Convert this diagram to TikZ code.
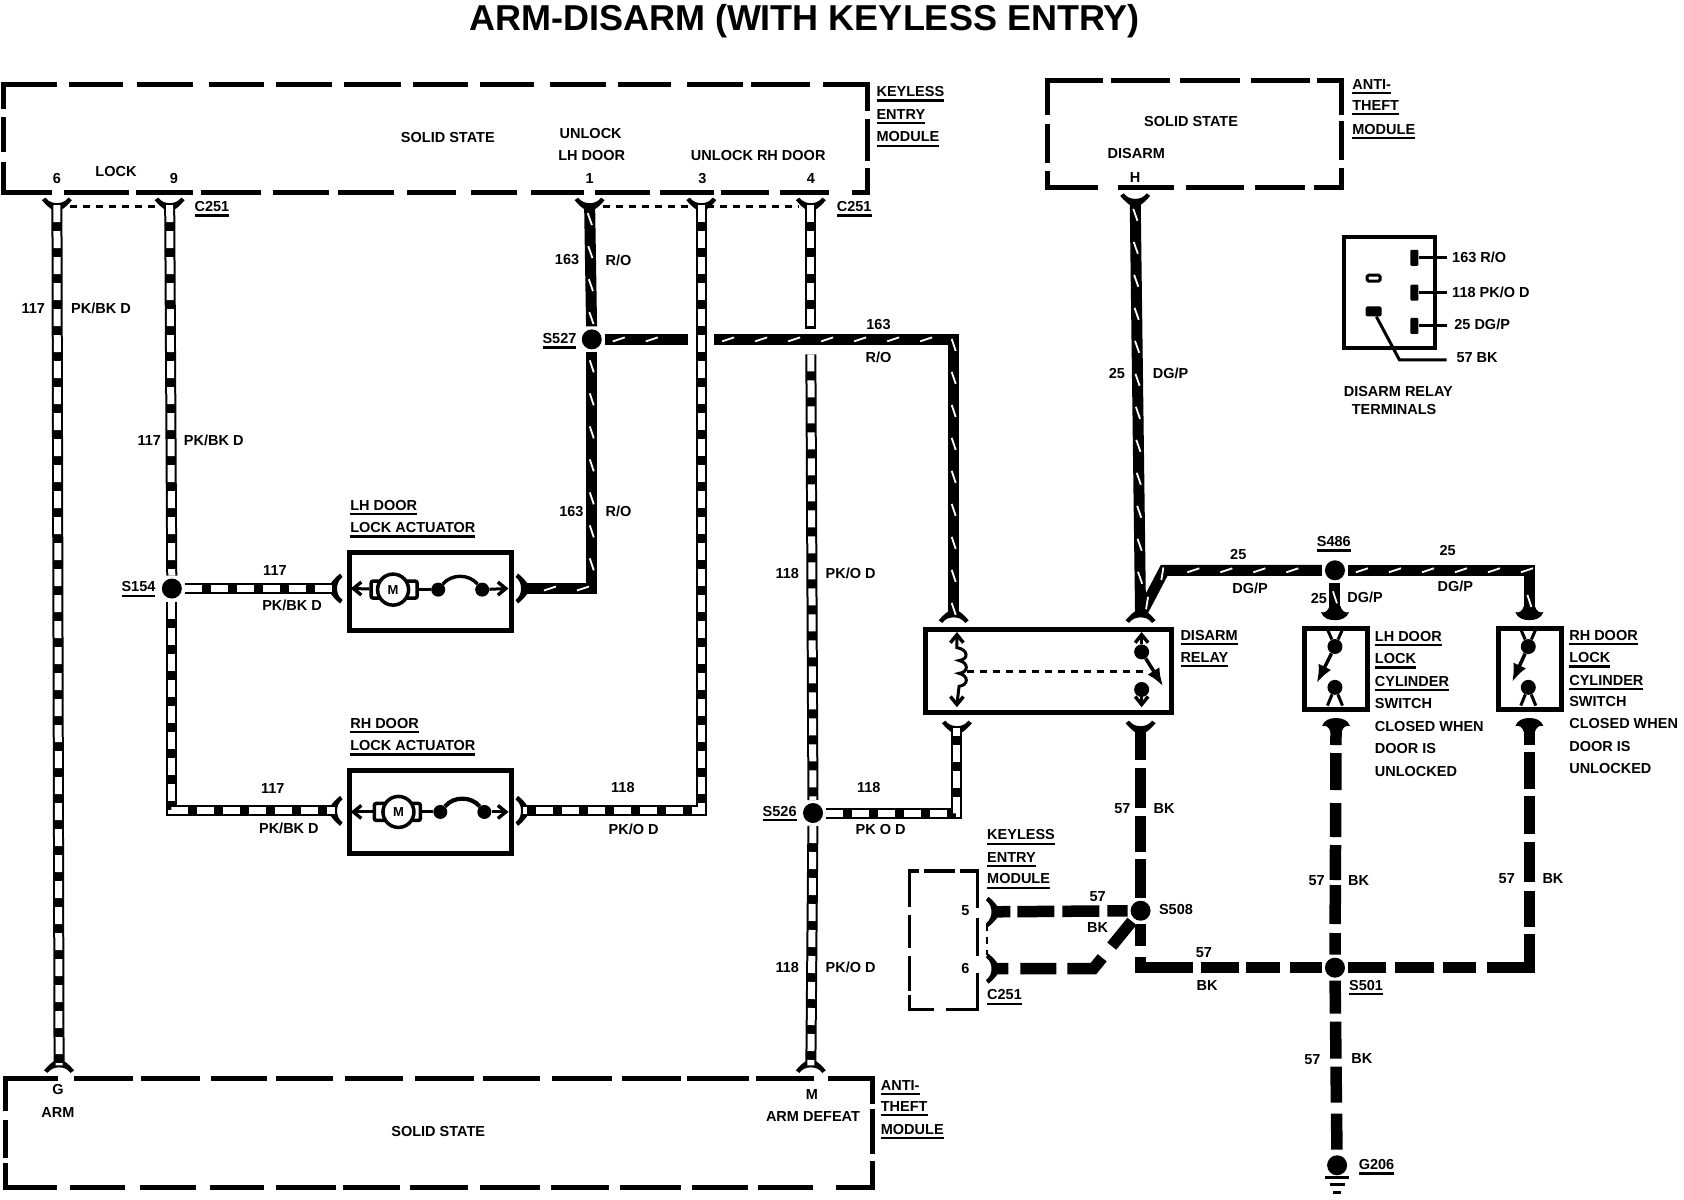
\documentclass[tikz,border=0pt]{standalone}
\usepackage{fontspec}
\setmainfont{Liberation Sans}
\usetikzlibrary{fit,calc,arrows.meta,decorations.markings}
\newcount\lblc
\newcommand\ulab[1]{\vtop{\hbox{#1}\kern2.6pt\hrule height 2.2pt}}
\newcommand\tc[3]{\global\advance\lblc by 1\node[lbl,name=t\the\lblc] at (#1,#2) {#3};}
\newcommand\tw[3]{\global\advance\lblc by 1\node[lbl,anchor=west,name=t\the\lblc] at (#1,#2) {#3};}
\newcommand\tu[3]{\global\advance\lblc by 1\node[lbl,anchor=base west,name=t\the\lblc] at (#1,{#2+5}) {\ulab{#3}};}
\newcommand\forkat[2]{\pic[rotate=#2] at (#1) {cupfork};}
\newcommand\headat[2]{\pic[rotate=#2] at (#1) {cuphead};}
\newcommand\chevat[2]{\pic[rotate=#2] at (#1) {chevron};}
\tikzset{
  lbl/.style={inner sep=0pt,font=\fontsize{14.5}{15}\selectfont\bfseries},
  stripe/.style={line width=11pt,postaction={draw=white,line width=7pt,dash pattern=on 17pt off 9pt}},
  hatch/.style={line width=11pt,postaction={decorate,decoration={markings,
      mark=between positions 14pt and -6pt step 33pt with {\draw[white,line width=1.8pt] (-6pt,-2pt)--(6pt,2pt);}}}},
  bkw/.style={line width=11.5pt},
  splice/.style={circle,fill=black,minimum size=20pt,inner sep=0pt,outer sep=3pt},
  dotn/.style={circle,fill=black,minimum size=14pt,inner sep=0pt},
  modbox/.style={inner sep=0pt,outer sep=0pt},
  modln/.style={line width=5pt,shorten <=-2.5pt},
  smln/.style={line width=3.6pt,shorten <=-1.8pt},
  devbox/.style={draw,line width=5pt,inner sep=0pt},
  thin dash/.style={line width=2.6pt,dash pattern=on 7pt off 6pt},
  inner/.style={line width=3pt},
  swarrow/.style={line width=3.5pt,-{Latex[length=18pt,width=14pt]}},
  cupfork/.pic={\fill (-15pt,5pt) .. controls (-11pt,0pt) and (-7pt,-3pt) .. (-5.5pt,-4pt) -- (5.5pt,-4pt)
     .. controls (7pt,-3pt) and (11pt,0pt) .. (15pt,5pt) -- (11.5pt,7.5pt) .. controls (8pt,3pt) and (4pt,2pt) .. (0pt,2pt)
     .. controls (-4pt,2pt) and (-8pt,3pt) .. (-11.5pt,7.5pt) -- cycle;},
  cuphead/.pic={\fill (-14pt,0pt) .. controls (-12pt,6pt) and (-6pt,8pt) .. (0pt,8pt) .. controls (6pt,8pt) and (12pt,6pt) .. (14pt,0pt)
     .. controls (10pt,1pt) and (7pt,-1pt) .. (5.5pt,-6pt) -- (-5.5pt,-6pt) .. controls (-7pt,-1pt) and (-10pt,1pt) .. cycle;},
  chevron/.pic={\draw[line width=3.4pt] (-6.5pt,-8pt) -- (0pt,0pt) -- (6.5pt,-8pt);},
}
\begin{document}
\begin{tikzpicture}[x=1.074pt,y=-1.074pt]
\useasboundingbox (0,0) rectangle (1568,1117.3);
% title
\node[inner sep=0pt,font=\fontsize{36}{37}\selectfont\bfseries] (title) at (749,20) {ARM-DISARM (WITH KEYLESS ENTRY)};
% modules
\coordinate (ka) at (3,79); \coordinate (kb) at (808,179);
\node[modbox,fit=(ka)(kb)] (keyless) {};
\draw[modln,dash pattern=on 56pt off 12pt on 54pt off 14pt on 56pt off 16pt on 55pt off 12pt on 56pt off 12pt on 57pt off 12pt on 55pt off 12pt on 54pt off 16pt on 56pt off 12pt on 53pt off 16pt on 56pt off 8pt on 59pt off 13pt on 71pt off 8pt on 42pt off 7pt on 40pt off 2000pt]
  (keyless.north west) -- (keyless.north east) -- (keyless.south east) -- (keyless.south west);
\draw[modln,dash pattern=on 27pt off 8pt on 35pt off 10pt on 79pt off 12pt on 65pt off 7pt on 57pt off 8pt on 60pt off 12pt on 56pt off 9pt on 56pt off 13pt on 49pt off 15pt on 46pt off 14pt on 53pt off 11pt on 55pt off 10pt on 54pt off 7pt on 48pt off 11pt on 49pt off 2000pt]
  (keyless.north west) -- (keyless.south west) -- (keyless.south east);
\coordinate (aa) at (975,74.5); \coordinate (ab) at (1249.5,175);
\node[modbox,fit=(aa)(ab)] (antitop) {};
\draw[modln,dash pattern=on 58pt off 8pt on 59pt off 10pt on 60pt off 11pt on 59pt off 7pt on 60pt off 6pt on 39pt off 8pt on 48pt off 9pt on 50pt off 11pt on 58pt off 12pt on 56pt off 2000pt]
  (antitop.north west) -- (antitop.north east) -- (antitop.south east) -- (antitop.south west);
\draw[modln,dash pattern=on 37pt off 9pt on 39pt off 8pt on 68pt off 2000pt]
  (antitop.north west) -- (antitop.south west) -- (antitop.south east);
\coordinate (ba) at (4.7,1004); \coordinate (bb) at (812,1106);
\node[modbox,fit=(ba)(bb)] (antibot) {};
\draw[modln,dash pattern=on 55pt off 16pt on 59pt off 8pt on 59pt off 11pt on 56pt off 9pt on 57pt off 12pt on 58pt off 12pt on 59pt off 9pt on 57pt off 12pt on 60pt off 10pt on 59pt off 6pt on 62pt off 7pt on 58pt off 14pt on 70pt off 5pt on 45pt off 7pt on 63pt off 2000pt]
  (antibot.north west) -- (antibot.north east) -- (antibot.south east) -- (antibot.south west);
\draw[modln,dash pattern=on 35pt off 9pt on 38pt off 5pt on 77pt off 13pt on 55pt off 15pt on 56pt off 14pt on 54pt off 12pt on 60pt off 7pt on 57pt off 10pt on 58pt off 12pt on 60pt off 11pt on 58pt off 11pt on 61pt off 11pt on 56pt off 10pt on 55pt off 2000pt]
  (antibot.north west) -- (antibot.south west) -- (antibot.south east);
\coordinate (sa) at (847,811); \coordinate (sb) at (910,940);
\node[modbox,fit=(sa)(sb)] (keysmall) {};
\draw[smln,dash pattern=on 11pt off 5pt on 31pt off 5pt on 54pt off 10pt on 38pt off 17pt on 68pt off 2000pt]
  (keysmall.north west) -- (keysmall.north east) -- (keysmall.south east) -- (keysmall.south west);
\draw[smln,dash pattern=on 38pt off 8pt on 33pt off 8pt on 35pt off 4pt on 39pt off 2000pt]
  (keysmall.north west) -- (keysmall.south west) -- (keysmall.south east);
% device boxes
\coordinate (la) at (325,514); \coordinate (lb) at (476,587);
\node[devbox,fit=(la)(lb)] (lhact) {};
\coordinate (ra) at (325,717); \coordinate (rb) at (476,795);
\node[devbox,fit=(ra)(rb)] (rhact) {};
\coordinate (da) at (862,586); \coordinate (db) at (1091,663);
\node[devbox,fit=(da)(db)] (relay) {};
\coordinate (sla) at (1215,585); \coordinate (slb) at (1273,661);
\node[devbox,fit=(sla)(slb)] (lhsw) {};
\coordinate (sra) at (1395,585); \coordinate (srb) at (1454,661);
\node[devbox,fit=(sra)(srb)] (rhsw) {};
\coordinate (ta) at (1251,221); \coordinate (tb) at (1336,324);
\node[draw,line width=4pt,inner sep=0pt,fit=(ta)(tb)] (termbox) {};
% connector ends
\coordinate (c6) at (53,191); \coordinate (c9) at (158,191);
\coordinate (c1) at (549,191); \coordinate (c3) at (653,191); \coordinate (c4) at (755,191);
\coordinate (cH) at (1057,187);
\coordinate (cG) at (55,992); \coordinate (cM) at (755,992);
\coordinate (alL) at (312,548); \coordinate (alR) at (487,548);
\coordinate (arL) at (312,755); \coordinate (arR) at (487,755);
\coordinate (rTL) at (888,573); \coordinate (rTR) at (1062,573);
\coordinate (rBL) at (891,678); \coordinate (rBR) at (1062,678);
\coordinate (swLT) at (1243,570); \coordinate (swRT) at (1424,570);
\coordinate (swLB) at (1244,676); \coordinate (swRB) at (1424,676);
\coordinate (k5) at (925,849); \coordinate (k6) at (925,902);
\node[splice] (S154) at (160,548) {};
\node[splice] (S527) at (551,316) {};
\node[splice] (S526) at (757,757) {};
\node[splice] (S486) at (1243,531) {};
\node[splice] (S508) at (1062,848) {};
\node[splice] (S501) at (1243,901) {};
\node[splice,outer sep=2pt] (G206) at (1245,1085) {};
% forks
\forkat{c6}{0}\forkat{c9}{0}\forkat{c1}{0}\forkat{c3}{0}\forkat{c4}{0}\forkat{cH}{0}
\forkat{cG}{180}\forkat{cM}{180}
\forkat{alL}{-90}\forkat{alR}{90}\forkat{arL}{-90}\forkat{arR}{90}
\forkat{rTL}{180}\forkat{rTR}{180}\forkat{rBL}{0}\forkat{rBR}{0}
\headat{swLT}{180}\headat{swRT}{180}\headat{swLB}{0}\headat{swRB}{0}
\forkat{k5}{90}\forkat{k6}{90}
% thin dashed links
\draw[thin dash] ($(c6)+(12,1)$) -- ($(c9)+(-12,1)$);
\draw[thin dash] ($(c1)+(12,1)$) -- ($(c4)+(-12,1)$);
\draw[thin dash] (919,860) -- (919,889);
% striped wires
\draw[stripe] (c6) -- (cG);
\draw[stripe] (c9) -- (S154);
\draw[stripe] (S154) -- (alL);
\draw[stripe] (S154) |- (arL);
\draw[stripe] (c3) |- (arR);
\coordinate (w4a) at (755,306); \coordinate (w4b) at (755,330);
\draw[stripe] (c4) -- (w4a);
\draw[stripe] (w4b) -- (S526);
\draw[stripe] (S526) -- (cM);
\draw[stripe] (S526) -| (rBL);
% hatched wires
\draw[hatch] (c1) -- (S527);
\draw[hatch] (S527) |- (alR);
\coordinate (h163a) at (641,316); \coordinate (h163b) at (665,316);
\draw[hatch] (S527) -- (h163a);
\draw[hatch] (h163b) -| (rTL);
\draw[hatch] (cH) -- (rTR);
\coordinate (bend25) at (1084,531);
\draw[hatch,line join=miter] (rTR) -- (bend25) -- (S486);
\draw[hatch] (S486) -| (swRT);
\draw[hatch] (S486) -- (swLT);
% black wires
\draw[bkw,dash pattern=on 32pt off 8pt on 40pt off 8pt on 36pt off 7pt on 39pt off 2000pt] (rBR) -- (S508);
\draw[bkw,dash pattern=on 22pt off 11pt on 63pt off 8pt on 38pt off 7pt on 34pt off 10pt on 34pt off 2000pt] (S508) |- (S501);
\draw[bkw,dash pattern=on 38pt off 9pt on 39pt off 9pt on 33pt off 11pt on 76pt off 7pt on 36pt off 9pt on 40pt off 8pt on 38pt off 7pt on 37pt off 7pt on 40pt off 2000pt] (S501) -| (swRB);
\draw[bkw,dash pattern=on 19pt off 8pt on 37pt off 13pt on 34pt off 8pt on 35pt off 5pt on 39pt off 9pt on 30pt off 2000pt] (swLB) -- (S501);
\draw[bkw,dash pattern=on 33pt off 8pt on 37pt off 8pt on 36pt off 11pt on 36pt off 2000pt] (S501) -- (G206);
\draw[bkw,dash pattern=on 17pt off 7pt on 37pt off 8pt on 37pt off 8pt on 22pt off 2000pt] (k5) -- (S508);
\coordinate (k6b) at (1018,902);
\draw[bkw,dash pattern=on 15pt off 12pt on 36pt off 11pt on 40pt off 15pt on 32pt off 2000pt] (k6) -- (k6b) -- (S508);
% ground
\draw[line width=3pt] (1234,1096) -- (1256,1096);
\draw[line width=3pt] (1238,1103) -- (1252,1103);
\draw[line width=3pt] (1241,1110) -- (1249,1110);
% LH actuator internals
\node[draw,fill=white,line width=3.5pt,rounded corners=2pt,minimum width=46pt,minimum height=17pt,inner sep=0pt] (mrL) at (367,549) {};
\node[draw,fill=white,circle,line width=3.5pt,minimum size=31pt,inner sep=0pt,font=\fontsize{13}{13}\selectfont\bfseries] (mL) at (366,549) {M};
\node[dotn] (d1L) at (408,549) {}; \node[dotn] (d2L) at (449,549) {};
\coordinate (aL1) at (329,548); \coordinate (aL2) at (471,548);
\draw[inner] (aL1) -- (mrL); \draw[inner] (mrL) -- (d1L); \draw[inner] (d2L) -- (aL2);
\draw[line width=3.4pt] (d1L) to[out=50,in=130] (d2L);
\chevat{aL1}{90}\chevat{aL2}{-90}
% RH actuator internals
\node[draw,fill=white,line width=3.5pt,rounded corners=2pt,minimum width=46pt,minimum height=17pt,inner sep=0pt] (mrR) at (370,756) {};
\node[draw,fill=white,circle,line width=3.5pt,minimum size=31pt,inner sep=0pt,font=\fontsize{13}{13}\selectfont\bfseries] (mR) at (371,756) {M};
\node[dotn] (d1R) at (410,756) {}; \node[dotn] (d2R) at (451,756) {};
\coordinate (aR1) at (329,756); \coordinate (aR2) at (471,756);
\draw[inner] (aR1) -- (mrR); \draw[inner] (mrR) -- (d1R); \draw[inner] (d2R) -- (aR2);
\draw[line width=4.2pt] (d1R) to[out=50,in=130] (d2R);
\chevat{aR1}{90}\chevat{aR2}{-90}
% relay internals
\coordinate (coilT) at (891,591); \coordinate (coilB) at (891,656);
\chevat{coilT}{0}\chevat{coilB}{180}
\draw[inner] (coilT) -- (891,603) .. controls (902,605) and (902,614) .. (893,615)
  .. controls (902,617) and (902,626) .. (893,627)
  .. controls (902,629) and (902,638) .. (893,639) -- (coilB);
\draw[thin dash] (900,625) -- (1066,625);
\coordinate (rsT) at (1063,591); \coordinate (rsB) at (1063,656);
\node[dotn,minimum size=15pt] (rd1) at (1063,607) {}; \node[dotn,minimum size=15pt] (rd2) at (1063,642) {};
\chevat{rsT}{0}\chevat{rsB}{180}
\draw[inner] (rsT) -- (rd1); \draw[inner] (rd2) -- (rsB);
\coordinate (rsA) at (1083,639);
\draw[swarrow] (rd1) -- (rsA);
% LH switch internals
\node[dotn,minimum size=15pt] (ls1) at (1243,602) {}; \node[dotn,minimum size=15pt] (ls2) at (1243,640) {};
\draw[inner] (1236,586) -- (ls1); \draw[inner] (1250,586) -- (ls1);
\draw[inner] (ls2) -- (1236,657); \draw[inner] (ls2) -- (1250,657);
\coordinate (lsA) at (1226,636);
\draw[swarrow] (ls1) -- (lsA);
% RH switch internals
\node[dotn,minimum size=15pt] (rs1) at (1423,602) {}; \node[dotn,minimum size=15pt] (rs2) at (1423,640) {};
\draw[inner] (1416,586) -- (rs1); \draw[inner] (1430,586) -- (rs1);
\draw[inner] (rs2) -- (1416,657); \draw[inner] (rs2) -- (1430,657);
\coordinate (rsB2) at (1408,635);
\draw[swarrow] (rs1) -- (rsB2);
% terminal diagram
\foreach \n/\y in {a/240,b/272.5,c/303.5}{
  \node[fill=black,inner sep=0pt,minimum width=8pt,minimum height=16pt,rounded corners=1pt] (tr\n) at (1317,\y) {};
  \coordinate (te\n) at (1347,\y);
  \draw[line width=3pt] (tr\n) -- (te\n);
}
\node[draw,fill=white,line width=3pt,inner sep=0pt,minimum width=13pt,minimum height=6pt,rounded corners=1.5pt] (tl1) at (1279,259) {};
\node[fill=black,inner sep=0pt,minimum width=16pt,minimum height=10pt,rounded corners=1.5pt] (tl2) at (1279,290) {};
\coordinate (te57) at (1347,335); \coordinate (tk57) at (1303,335);
\draw[line width=3pt] (tl2) -- (tk57) -- (te57);
% labels: keyless module
\tu{816}{85}{KEYLESS}\tu{816}{106}{ENTRY}\tu{816}{127}{MODULE}
\tc{417}{128}{SOLID STATE}\tc{550}{124}{UNLOCK}\tc{551}{145}{LH DOOR}\tc{706}{145}{UNLOCK RH DOOR}
\tc{108}{160}{LOCK}\tc{53}{166}{6}\tc{162}{166}{9}\tc{549}{166}{1}\tc{654}{166}{3}\tc{755}{166}{4}
\tu{181}{192}{C251}\tu{779}{192}{C251}
% labels: anti-theft top
\tu{1259}{78}{ANTI-}\tu{1259}{98}{THEFT}\tu{1259}{120}{MODULE}
\tc{1109}{113}{SOLID STATE}\tc{1058}{143}{DISARM}\tc{1057}{165}{H}
% wire labels left
\tc{31}{287}{117}\tc{94}{287}{PK/BK D}
\tc{139}{410}{117}\tc{199}{410}{PK/BK D}
\tu{113}{546}{S154}
\tc{256}{531}{117}\tc{272}{564}{PK/BK D}
\tc{254}{734}{117}\tc{269}{771}{PK/BK D}
\tu{326}{470}{LH DOOR}\tu{326}{491}{LOCK ACTUATOR}
\tu{326}{673}{RH DOOR}\tu{326}{694}{LOCK ACTUATOR}
\tc{528}{242}{163}\tc{576}{242}{R/O}
\tu{505}{315}{S527}
\tc{532}{476}{163}\tc{576}{476}{R/O}
\tc{818}{302}{163}\tc{818}{333}{R/O}
\tc{580}{733}{118}\tc{590}{772}{PK/O D}
\tc{733}{534}{118}\tc{792}{534}{PK/O D}
\tu{710}{755}{S526}
\tc{809}{733}{118}\tc{820}{772}{PK O D}
\tc{733}{901}{118}\tc{792}{901}{PK/O D}
% labels: bottom module
\tc{54}{1014}{G}\tc{54}{1036}{ARM}\tc{408}{1054}{SOLID STATE}\tc{756}{1019}{M}\tc{757}{1040}{ARM DEFEAT}
\tu{820}{1010}{ANTI-}\tu{820}{1030}{THEFT}\tu{820}{1051}{MODULE}
% labels: right side
\tc{1040}{348}{25}\tc{1090}{348}{DG/P}
\tc{1153}{516}{25}\tc{1164}{548}{DG/P}
\tu{1226}{504}{S486}
\tc{1348}{513}{25}\tc{1355}{546}{DG/P}
\tc{1228}{557}{25}\tc{1271}{556}{DG/P}
\tu{1099}{591}{DISARM}\tu{1099}{612}{RELAY}
\tu{1280}{592}{LH DOOR}\tu{1280}{613}{LOCK}\tu{1280}{634}{CYLINDER}
\tw{1280}{655}{SWITCH}\tw{1280}{676}{CLOSED WHEN}\tw{1280}{697}{DOOR IS}\tw{1280}{718}{UNLOCKED}
\tu{1461}{591}{RH DOOR}\tu{1461}{612}{LOCK}\tu{1461}{633}{CYLINDER}
\tw{1461}{653}{SWITCH}\tw{1461}{674}{CLOSED WHEN}\tw{1461}{695}{DOOR IS}\tw{1461}{716}{UNLOCKED}
\tc{1045}{753}{57}\tc{1084}{753}{BK}
\tc{1226}{820}{57}\tc{1265}{820}{BK}
\tc{1403}{818}{57}\tc{1446}{818}{BK}
\tc{1222}{987}{57}\tc{1268}{986}{BK}
\tc{1121}{887}{57}\tc{1124}{918}{BK}
\tu{1256}{917}{S501}
\tu{1265}{1084}{G206}
\tw{1079}{847}{S508}
\tu{919}{777}{KEYLESS}\tu{919}{798}{ENTRY}\tu{919}{818}{MODULE}
\tc{899}{848}{5}\tc{899}{902}{6}\tu{919}{926}{C251}
\tc{1022}{835}{57}\tc{1022}{864}{BK}
% terminal labels
\tw{1352}{240}{163 R/O}\tw{1352}{272}{118 PK/O D}\tw{1354}{302}{25 DG/P}\tw{1356}{333}{57 BK}
\tc{1302}{365}{DISARM RELAY}\tc{1298}{381}{TERMINALS}
\end{tikzpicture}
\end{document}
